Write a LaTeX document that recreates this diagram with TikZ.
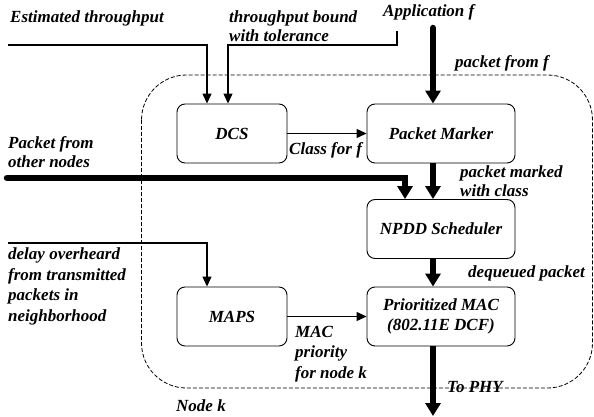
\documentclass[tikz,border=0pt]{standalone}
\usepackage{fontspec}
\setmainfont{Liberation Serif}
\usetikzlibrary{arrows.meta,calc}
\begin{document}
\begin{tikzpicture}[x=1pt,y=-1pt,
  every node/.style={font=\fontsize{17}{20.5}\selectfont\bfseries\itshape},
  box/.style={draw,rounded corners=8pt,line width=0.9pt,inner sep=0pt,align=center,minimum height=59pt},
  lbl/.style={anchor=base west,inner sep=0pt,align=left},
  thinarr/.style={line width=1.2pt,-{Triangle[length=10pt,width=9pt]}},
  thickarr/.style={line width=6.5pt,line cap=round,-{Triangle[length=13pt,width=15pt]}}]
\useasboundingbox (0,0) rectangle (594,417);
% node region
\draw[dash pattern=on 4pt off 2pt, rounded corners=45pt, line width=0.8pt] (141.5,75) rectangle (592.5,388);
% boxes
\node[box,minimum width=110pt] (DCS) at (232,133.5) {DCS};
\node[box,minimum width=148pt] (PM) at (441,133.5) {Packet Marker};
\node[box,minimum width=148pt] (NPDD) at (441,229) {NPDD Scheduler};
\node[box,minimum width=148pt] (MAC) at (441,316.5) {Prioritized MAC\\(802.11E DCF)};
\node[box,minimum width=110pt] (MAPS) at (232,316.5) {MAPS};
% labels (base = baseline of the last line)
\node[lbl] (l1) at (10,22.7) {Estimated throughput};
\node[lbl] (l2) at (229,41.7) {throughput bound\\[-1.5pt]with tolerance};
\node[lbl] (l3) at (383,17) {Application f};
\node[lbl] (l4) at (455,68) {packet from f};
\node[lbl] (l5) at (289,154) {Class for f};
\node[lbl] (l6) at (8,167) {Packet from\\[-1.5pt]other nodes};
\node[lbl] (l7) at (460,196) {packet marked\\[-1.5pt]with class};
\node[lbl] (l8) at (468,277) {dequeued packet};
\node[lbl] (l9) at (8,321) {delay overheard\\from transmitted\\packets in\\neighborhood};
\node[lbl] (l10) at (295,378) {MAC\\priority\\for node k};
\node[lbl] (l11) at (447,392) {To PHY};
\node[lbl] (l12) at (176,411) {Node k};
% connectors
\coordinate (e0) at (8,45);
\draw[thinarr] (e0) -| ($(DCS.north)+(-25,0)$);
\coordinate (t0) at (397,31);
\coordinate (t1) at (397,45);
\draw[thinarr] (t0) -- (t1) -| ($(DCS.north)+(-4,0)$);
\coordinate (app) at (433,28);
\draw[thickarr] (app) -- (433,0 |- PM.north);
\draw[thinarr] (DCS.east) -- (PM.west);
\coordinate (pn) at (7,178);
\draw[thickarr,line join=miter] (pn) -| ($(NPDD.north)+(-36,0)$);
\draw[thickarr,line cap=butt] (433,0 |- PM.south) -- (433,0 |- NPDD.north);
\draw[thickarr,line cap=butt] (433,0 |- NPDD.south) -- (433,0 |- MAC.north);
\coordinate (d0) at (8,243);
\draw[thinarr] (d0) -| ($(MAPS.north)+(-25,0)$);
\draw[thinarr] (MAPS.east) -- (MAC.west);
\coordinate (phy) at (433,416);
\draw[thickarr,line cap=butt] (433,0 |- MAC.south) -- (phy);
\end{tikzpicture}
\end{document}
